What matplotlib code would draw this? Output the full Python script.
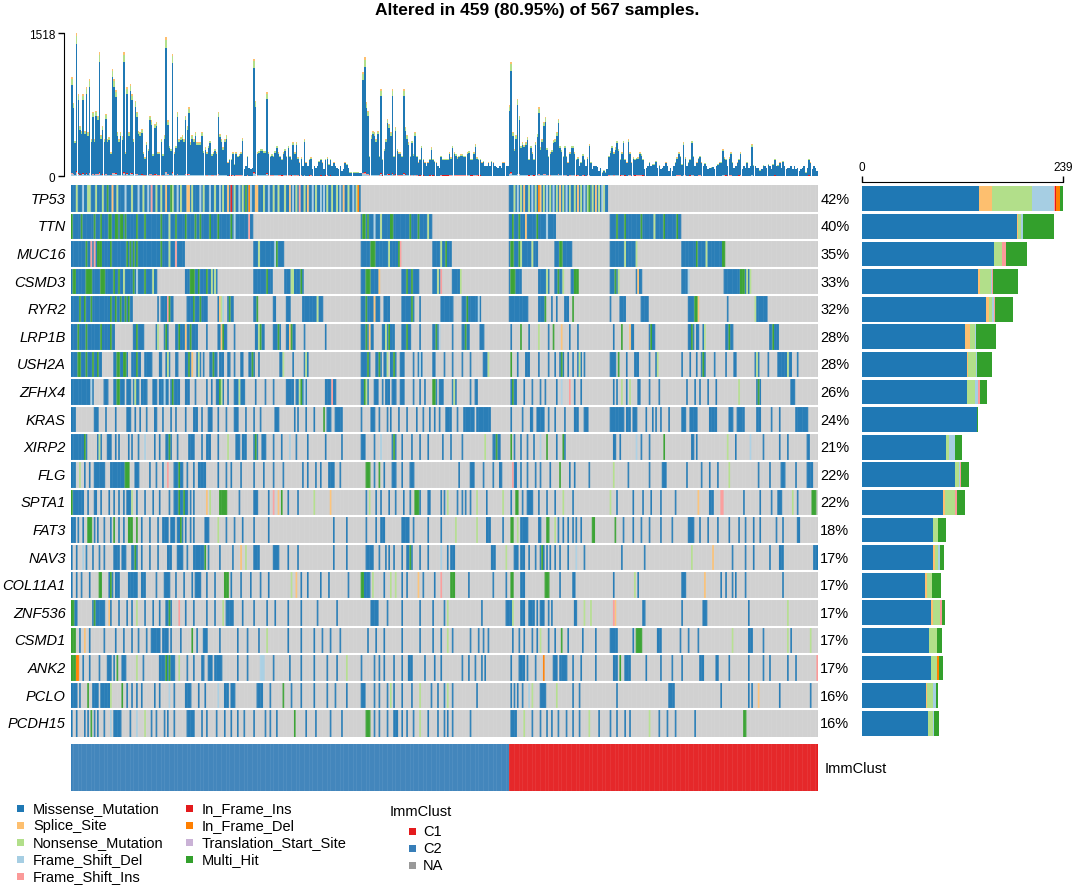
import numpy as np
import matplotlib.pyplot as plt
from matplotlib.patches import Rectangle

plt.rcParams['font.family'] = ['Liberation Sans', 'DejaVu Sans']

n_samples = 459
n_c2 = 269          # ImmClust C2 samples (left block)
n_c1 = 190          # ImmClust C1 samples (right block)

genes = ['TP53', 'TTN', 'MUC16', 'CSMD3', 'RYR2', 'LRP1B', 'USH2A', 'ZFHX4', 'KRAS', 'XIRP2',
         'FLG', 'SPTA1', 'FAT3', 'NAV3', 'COL11A1', 'ZNF536', 'CSMD1', 'ANK2', 'PCLO', 'PCDH15']
pct_labels = ['42%', '40%', '35%', '33%', '32%', '28%', '28%', '26%', '24%', '21%',
              '22%', '22%', '18%', '17%', '17%', '17%', '17%', '17%', '16%', '16%']

vc_names = ['Missense_Mutation', 'Splice_Site', 'Nonsense_Mutation', 'Frame_Shift_Del',
            'Frame_Shift_Ins', 'In_Frame_Ins', 'In_Frame_Del', 'Translation_Start_Site', 'Multi_Hit']
vc_codes = ['m', 's', 'n', 'd', 'i', 'r', 'o', 't', 'h']
vc_colors = ['#1F78B4', '#FDBF6F', '#B2DF8A', '#A6CEE3', '#FB9A99', '#E31A1C', '#FF7F00', '#CAB2D6', '#33A02C']

# mutated samples per gene: "a-b" ranges (missense by default), a trailing letter sets the type
mut_rows = [
    # TP53
    "0-177 269-329 3n 10-11n 15n 19n 28n 37n 44n 52n 55n 62n 67n 74n 81n 88n 93n 100n 105n 118n 124n "
    "127n 131n 138n 143n 150n 157n 160n 163n 170n 175n 272n 276n 281n 285n 290n 294n 298n 302n 306n "
    "309n 313n 317n 320n 324n 327n 25s 58s 71-72s 96s 113-114s 134s 145s 167s 278s 288s 300s 311s 322s "
    "7d 33d 41d 47d 65d 79d 85d 91d 103d 110d 121d 136d 148d 153d 155d 165d 173d 274d 283d 292d 296d "
    "304d 315d 326d 49i 140i 98r 109o 176o 287o 22h 61h 107h 318h",
    # TTN
    "0-111 178-221 269-297 331-374 0h 6h 14h 18h 23-24h 27-28h 30-31h 33h 40h 45h 55h 64h 70h 76h 79h "
    "85h 90h 98h 179-180h 182h 196-197h 208h 213h 271h 275h 286h 335h 340h 350h 364h 372h 60n 190n "
    "219n 358n 279s 100d 186d 292d 109i",
    # MUC16
    "0-69 112-130 178-202 222-233 269-286 297-307 331-347 375-401 9h 16-18h 24h 34h 36h 38h 40h 55h "
    "126h 184-186h 201h 230h 270-271h 275h 300-301h 384h 400-401h 12i 14i 64i 202i 60n 115n 195n 227n "
    "276n 283n 340n 347n 390n 125d",
    # CSMD3
    "0-52 70-89 112-123 131-142 178-189 203-213 222-227 234-239 269-276 287-293 297-302 307-311 331-336 "
    "347-350 375-379 401-417 1-2h 9-12h 18-20h 26h 29h 38h 45h 73-75h 78h 83h 120h 141h 181-183h 206h "
    "209h 270-272h 299h 309-311h 334h 411-413h 50n 86n 88n 135n 136n 225n 239n 292n 302n 336n 415n "
    "417n 32n 189s 348s 227i 40d 379d",
    # RYR2
    "0-37 53 55-59 61-62 71-83 90-93 96-99 112-114 124-125 132-134 142-154 178-189 192-195 203-210 214 "
    "227-234 240-251 269-280 287-291 295 298 303-305 308 331 337-340 350-354 379-385 403 420-427 5h 8h "
    "12h 24h 27h 30h 33h 35h 60h 75h 79h 97h 114h 181h 209h 243h 291h 308h 383-384h 92n 151n 420n 91s "
    "186s 385s 59i 93d 250d",
    # LRP1B
    "0-26 38-44 52-53 57-59 64-77 83 90-95 100 113-118 124-128 132-137 143 156 178-185 191-198 203-208 "
    "214 222-226 234 240-244 251-253 270 276 281 287 293 296 301 306 311 333 338 343-345 355-358 "
    "379-382 384-385 388-389 402-406 429-434 4h 9h 18h 24h 40h 58h 66h 73h 93h 116h 127h 135h 181h "
    "195h 206h 224h 242h 276h 296h 338h 356h 381h 404h 431h 70s 92s 134s 183s 301s 343s 53n 115n 193n "
    "287n 389n 226d",
    # USH2A
    "0-18 26-34 37-42 45-49 54-55 58-60 64-65 70-74 77-79 81 85-89 91-93 96-97 100 104-105 109-112 115 "
    "128-130 136 143-145 178-183 187-190 192-194 196-199 202-204 210 213-215 222-223 229 234 240 245 "
    "253-256 270 274 279-281 287 293 297 300-302 305 308 311-313 315 331-334 341 346-348 355 359-360 "
    "375 380 384 387-389 395 402 407-408 420-422 428 434-442 446 4-5h 9h 13h 16h 28-29h 32-33h 40h "
    "72h 87h 111h 182h 189h 198h 270h 301h 336h 388h 59n 78n 130n 144n 194n 256n 312n 360n 421n 440n "
    "74s 214d",
    # ZFHX4
    "0-13 20-22 26-32 34-36 38-41 43-46 50-52 54-59 61-66 70-72 76 83 86 89-93 96 100-106 113 119 124 "
    "132-136 138-144 156-162 178-182 186-188 191 193-195 197-199 202-204 210 214 217 222-224 226-228 "
    "234-236 245 248-249 270-273 278 283 288 291 298 301 306 309 313 333 335 338 341 343 348-349 355 "
    "361 378 383 386 391 396 410 421-423 442-444 28-29h 62h 91h 222-223h 422h 180h 271h 141h 140n "
    "410n 92n 181n 39n 103n 235n 338n 343n 12d 143d 57d 301d 306i 160i",
    # KRAS
    "0-2 14-16 21 27 34-36 39 42 46 51-52 56 61 64 70 75-77 80 84-86 90 95 100-102 107 112 116 125-127 "
    "137 139 144 149 155 157-159 162-166 178 184-186 189 194 196 201 206 212 216 220 223 226 230-233 "
    "237 241-247 249-257 270 277 282-283 286-290 293 297 303 309-311 315-317 331-339 341-343 345-347 "
    "353 357 359 362 367 375-377 380-384 392-396 404-406 409-413 421-423 430 435 445-452 155h",
    # XIRP2
    "0-9 16-18 22-24 27 29 35 37 41 45 51 54 58-61 65 72-75 80 83-85 90 96 101-103 105-107 112-114 "
    "117-119 124 129 134 138 145 156 166 178-180 186 190 197-199 203 209 214 219 228 233 240 254n "
    "259-263 270h 272 276 280 284 288 292h 298 302-303 333-334 337 347 350 355 364h 381-382 384 403n "
    "408 417 425 435 440 452-453 8h 60h 113h 198h 261h 302h 45d 134d 190d 288d 347d 417d 17n 96n",
    # FLG
    "0-2 5n 8 11 14-20 24-35 33-35h 39-41 48 52 56 59i 63-68 66h 71 75 78-82 90 95 98 104 112 118 124 "
    "130 142 145 150 153 158-161 165 181-183h 186 189h 192 197-199 203 208-210 238 245-247 253 259 "
    "263-264 271i 272-273 276 280 285 288 294 300h 306 309 318 333n 342 355 363-365 378 387 392 397 "
    "404n 422 429 436-438 445 452-455",
    # SPTA1
    "0-2 0h 2-7 10 14-15 18 23 26 29 32 34-36 37n 40 45 50 54 60 63-71 66h 69h 73 75 83s 85n 91-95h "
    "103 112-114 121 124i 127s 129h 133 139 149n 159s 181 183n 187 190 195 199 204 208 211-213h 214 "
    "219-220 227 229 231n 237 240 242 245 249n 255 265n 270 273-274h 277 280-283 287 292 297 302n 308 "
    "331n 335 345 351 356 362 371 385s 392-394 399-400i 413 423 430 434-436 443n 446 455-457h",
    # FAT3
    "0-2 4 7 10-12h 14 16 20 24 26h 29 32 35-37h 40h 43 48 53 56-59 61-63 65-68 67h 70 73 75 82-84 90n "
    "95 100 105 112 121 161 169 181 187 190-192 203-207 210 219 227 236n 249n 255-257 265 270-271h "
    "274n 276-280 287 288 292-293h 297n 299 302 305 308 310 313 320-321h 334h 339 345 350 355 362 369 "
    "379-382 386 391 397 404 410 414 419 423 433 437 446-447",
    # NAV3
    "0 3 7d 9 13 17 20 26-29 31-33 37-40 39h 43 48 53 59-61 65-68 71 75-82 84 91 99 104s 107n 112-115 "
    "124-127 133 139 161 169 181-185 189 193 195 198 203 206-209 214 219 227d 231 233-235 258-260 267n "
    "272-274 276-278 281 285 288-290 292 294 297 300 305 310d 315 338 352 381n 394s 406 414 419 429 "
    "435-437 456-458 82h 208h 289h",
    # COL11A1
    "0 3 6 11 17-18h 23-25 24h 27-29 35-40 43-45 52 57-60 64 69 74 76-79 83 88 94-96h 98 104 110 116 "
    "121 135n 138s 141 145 153 158 170 178-183 178-179h 185n 192 196n 199n 203 206 213s 216 223 227i "
    "233-235h 244 259 267 270-271h 276-278 291-293h 300 308-309 333 346n 348 375-377 389s 399 402 406 "
    "408 414 437",
    # ZNF536
    "0-3 0-1h 13-19 14h 20 23s 24 29 34 37 40n 45 50 54 58-61 60h 66i 70 75 83 88 93n 95-99 105 112 "
    "120 125 133 141 151 163 184-188 194 203 214 222 229 231n 252 267-270 271n 276-278 281-284 286 "
    "288-290 293 295 309-310 315n 319n 333i 334s 351-352 375 388-390 416 440n",
    # CSMD1
    "0-2h 5 8s 11 20 27 32 37 41 46 49-54 56-59 61 67 74h 77 81-83 91 102 108 115 120n 133 141 149 154 "
    "159 165 182 187 192 203 214 222 227 231n 234 245 250 253 256 271 275 278 283 286 288n 293 297 "
    "301h 305 314 322 331-334 335 345 347-350h 360-362 374 379 385 406n 416-418 425 440n 442 454n",
    # ANK2
    "0-2h 3-4o 7 11 17 22-24 26 28h 31-33 40n 44 54-63 58h 60h 66n 71 75 80-81 84-86 88-92 102 108 "
    "116-118d 124 134 141 149 157 163 169n 178 186 189 192 198 203 207-209 217 223 227 240 244 248 252 "
    "254 270 275-278 280 285 290o 296-298 300-304 308 313 322 333-335 337h 340-343 353 362 369 375 "
    "386-388 396 397 404 416 425 429 440 445 458i",
    # PCLO
    "0-3 5 10h 13 14-16 18-23 24n 31h 34 37 40 43 51 54 60d 63 70-73 78 82 90d 94-96 98-100 114-117 "
    "122 130h 135 141 149 157 162 169 178-180 186 189 194 196n 198 203 209 214n 221 225 229 231n 234 "
    "249 270 272 274 277 281d 283n 288-291 298n 308 312 335 367-370 399 416 418 422s 435 454",
    # PCDH15
    "0 3 8 10 12h 14 16 20 24d 26-30 36 40d 45n 49 52 57 59 63 71-75 80 83 89 94 98 102 106 112 119 122 "
    "126 137h 144 150 159 166 181-183h 186 189 194 198-200 203 206 210 214n 219 225 229 231 234 245 "
    "270-273 278n 283 288 292 295 299 304 308 312 318n 324 331 335 340 343 355n 361 366 371 383 "
    "413-414h",
]

# variant counts per gene for the right bar: missense, splice, nonsense, fs_del, fs_ins,
# if_ins, if_del, tss, multi_hit
gene_vc_counts = [
    [139, 16, 47, 26, 2, 1, 4, 0, 4],
    [184, 1, 4, 3, 0, 0, 0, 0, 36],
    [157, 0, 9, 1, 4, 0, 0, 0, 25],
    [138, 2, 13, 2, 1, 0, 0, 0, 30],
    [148, 3, 4, 2, 1, 0, 0, 0, 21],
    [123, 6, 5, 1, 0, 0, 0, 0, 24],
    [125, 1, 10, 1, 0, 0, 0, 0, 18],
    [125, 0, 9, 4, 2, 0, 0, 0, 9],
    [137, 0, 0, 0, 0, 0, 0, 0, 1],
    [100, 0, 4, 6, 0, 0, 0, 0, 9],
    [111, 0, 4, 2, 1, 0, 0, 0, 9],
    [96, 3, 11, 1, 2, 0, 0, 0, 10],
    [84, 0, 6, 0, 0, 0, 0, 0, 10],
    [85, 2, 3, 3, 0, 0, 0, 0, 4],
    [75, 2, 6, 0, 0, 0, 0, 0, 11],
    [82, 2, 9, 0, 2, 0, 0, 0, 4],
    [80, 0, 9, 0, 0, 0, 0, 0, 6],
    [82, 0, 7, 0, 0, 0, 2, 0, 5],
    [76, 1, 7, 4, 0, 0, 0, 0, 2],
    [79, 0, 6, 1, 0, 0, 0, 0, 5],
]

# total mutations per sample (top bar), left to right
tmb_total = [
    1050, 780, 375, 1518, 870, 535, 480, 870, 480, 940,
    465, 1030, 394, 680, 394, 695, 640, 1315, 430, 535,
    394, 660, 394, 410, 250, 1140, 1030, 910, 465, 394,
    465, 420, 1315, 250, 940, 465, 980, 870, 394, 800, 680,
    480, 465, 500, 250, 200, 360, 290, 640, 590, 235,
    555, 570, 250, 250, 395, 235, 430, 1475, 590, 320,
    290, 1300, 250, 320, 680, 394, 410, 430, 394, 640, 535,
    730, 360, 430, 394, 465, 360, 360, 360, 465, 270,
    305, 250, 320, 375, 235, 250, 290, 250, 680, 445,
    394, 305, 394, 430, 145, 180, 180, 250, 130, 250,
    215, 230, 250, 400, 75, 110, 215, 90, 75, 90, 1245,
    800, 250, 270, 290, 290, 270, 270, 890, 250, 215,
    235, 215, 270, 320, 250, 215, 180, 250, 290, 215,
    320, 215, 180, 360, 250, 360, 200, 145, 200, 110, 394,
    145, 110, 180, 200, 75, 110, 90, 110, 160, 180,
    145, 75, 180, 200, 130, 180, 110, 145, 110, 90,
    75, 110, 55, 75, 145, 130, 90, 40, 40, 40, 40, 40, 40, 30, 30,
    1100, 1260, 785, 695, 215, 430,
    480, 465, 394, 480, 215, 925, 180, 290, 394, 605,
    555, 465, 925, 215, 520, 290, 250, 250, 215, 925, 520,
    430, 360, 215, 375, 235, 465, 215, 145, 180, 320,
    180, 145, 110, 145, 180, 305, 180, 160, 145, 110, 90,
    216, 180, 180, 180, 180, 250, 200, 320, 250, 235,
    200, 215, 230, 235, 215, 216, 250, 270, 180, 180,
    250, 335, 200, 180, 180, 145, 160, 110, 110, 145,
    110, 160, 145, 110, 100, 90, 110, 90, 145, 145, 110, 110,
    750, 1210, 465, 287, 430, 820, 640, 323, 358, 330, 358, 410, 180, 323, 250, 180,
    358, 450, 730, 305, 394, 570, 625, 300, 216, 252, 280, 383, 394, 465, 605, 323, 280,
    216, 323, 216, 145, 250, 323, 323, 250, 180, 200, 110, 150, 235, 180, 110, 200,
    340, 150, 75, 110, 110, 100, 55, 90, 40, 60, 40, 75, 216, 270, 323, 250,
    305, 375, 290, 180, 250, 376, 180, 145, 394, 252, 145, 200, 180, 190,
    200, 252, 235, 180, 75, 90, 110, 150, 110, 130, 125, 160, 90, 120, 75,
    90, 110, 145, 110, 55, 90, 55, 110, 150, 200, 252, 216, 130, 358, 200,
    110, 150, 180, 376, 216, 110, 145, 190, 216, 145, 110, 140, 110, 75, 90, 95,
    100, 75, 110, 125, 145, 150, 287, 200, 180, 110, 200, 252, 150, 90, 110, 145,
    180, 252, 75, 110, 90, 150, 90, 110, 335, 120, 110, 90, 90, 60, 75, 120,
    110, 90, 125, 110, 75, 130, 180, 110, 120,
    145, 90, 160, 110, 75, 90, 90, 110, 75, 110, 75, 90,
    55, 75, 90, 110, 40, 90, 180, 145, 75, 110, 90, 55,
]
# approximate share of each class inside a sample bar (bottom to top)
tmb_classes = ['Frame_Shift_Del', 'Frame_Shift_Ins', 'In_Frame_Ins', 'Missense_Mutation',
               'Nonsense_Mutation', 'Splice_Site']
tmb_share = [0.02, 0.008, 0.004, 0.89, 0.058, 0.02]

clust_levels = ['C1', 'C2', 'NA']
clust_colors = ['#E41A1C', '#377EB8', '#999999']
imm_clust = ['C2'] * n_c2 + ['C1'] * n_c1

title = 'Altered in 459 (80.95%) of 567 samples.'


# ---- helpers ----
def parse_row(spec):
    row = np.zeros(n_samples, dtype=int)
    for tok in spec.split():
        code = 'm'
        if tok[-1].isalpha():
            code, tok = tok[-1], tok[:-1]
        a, _, b = tok.partition('-')
        a = int(a)
        b = int(b) if b else a
        row[a:b + 1] = vc_codes.index(code) + 1
    return row


def runs_of(idx):
    # contiguous runs of sample indices -> (start, width) pairs for broken_barh
    if len(idx) == 0:
        return []
    cuts = np.flatnonzero(np.diff(idx) != 1) + 1
    return [(int(g[0]), int(g[-1] - g[0] + 1)) for g in np.split(idx, cuts)]


W, H = 1074, 887


def px_box(x0, y0, x1, y1):
    # pixel box from top-left -> figure fraction rect
    return [x0 / W, 1 - y1 / H, (x1 - x0) / W, (y1 - y0) / H]


mat = np.array([parse_row(s) for s in mut_rows])
tmb_arr = np.array(tmb_total, dtype=float)
if len(tmb_arr) != n_samples:
    raise ValueError('tmb length %d' % len(tmb_arr))

fig = plt.figure(figsize=(W / 100, H / 100), dpi=100)
fig.patch.set_facecolor('white')

ax_tmb = fig.add_axes(px_box(71, 34, 818, 177))
ax_mat = fig.add_axes(px_box(71, 186, 818, 738))
ax_bar = fig.add_axes(px_box(862, 186, 1063, 738))
ax_ann = fig.add_axes(px_box(71, 745, 818, 792))

# top: mutations per sample
x = np.arange(n_samples) + 0.5
bottom = np.zeros(n_samples)
for name, share in zip(tmb_classes, tmb_share):
    seg = tmb_arr * share
    ax_tmb.bar(x, seg, bottom=bottom, width=0.92, color=vc_colors[vc_names.index(name)], linewidth=0)
    bottom += seg
ax_tmb.set_xlim(0, n_samples)
ax_tmb.set_ylim(0, 1518)
for s in ['top', 'right', 'bottom']:
    ax_tmb.spines[s].set_visible(False)
ax_tmb.spines['left'].set_position(('outward', 5))
ax_tmb.spines['left'].set_bounds(0, 1518)
ax_tmb.set_xticks([])
ax_tmb.set_yticks([0, 1518])
ax_tmb.tick_params(axis='y', length=4.5, width=1, labelsize=8.5, pad=2)

# oncoplot matrix: gray background row, coloured runs per variant class
for r, row in enumerate(mat):
    ax_mat.broken_barh([(0, n_samples)], (r, 1), facecolors='#CFCFCF', linewidth=0)
    for k, col in enumerate(vc_colors):
        spans = runs_of(np.flatnonzero(row == k + 1))
        if spans:
            ax_mat.broken_barh(spans, (r, 1), facecolors=col, linewidth=0, snap=False)
ax_mat.vlines(np.arange(1, n_samples), 0, len(genes), colors='white', lw=0.3, alpha=0.25)
for r in range(1, len(genes)):
    ax_mat.axhline(r, color='white', lw=1.5)
ax_mat.set_xlim(0, n_samples)
ax_mat.set_ylim(len(genes), 0)
ax_mat.axis('off')
ytr = ax_mat.get_yaxis_transform()
for r, (g, p) in enumerate(zip(genes, pct_labels)):
    ax_mat.text(-0.007, r + 0.5, g, transform=ytr, ha='right', va='center',
                style='italic', fontsize=10.5)
    ax_mat.text(1.003, r + 0.5, p, transform=ytr, ha='left', va='center', fontsize=10.5)

# right: variant counts per gene
yb = np.arange(len(genes)) + 0.5
left = np.zeros(len(genes))
for k, col in enumerate(vc_colors):
    vals = np.array([row[k] for row in gene_vc_counts], dtype=float)
    ax_bar.barh(yb, vals, left=left, height=0.9, color=col, linewidth=0)
    left += vals
ax_bar.set_xlim(0, 239)
ax_bar.set_ylim(len(genes), 0)
for s in ['bottom', 'left', 'right']:
    ax_bar.spines[s].set_visible(False)
ax_bar.spines['top'].set_position(('outward', 2))
ax_bar.spines['top'].set_bounds(0, 239)
ax_bar.xaxis.tick_top()
ax_bar.set_xticks([0, 239])
ax_bar.set_yticks([])
ax_bar.tick_params(axis='x', length=4.5, width=1, labelsize=8.5, pad=2)

# ImmClust annotation
ann = np.array([clust_levels.index(c) for c in imm_clust])
for k, col in enumerate(clust_colors):
    spans = runs_of(np.flatnonzero(ann == k))
    if spans:
        ax_ann.broken_barh(spans, (0, 1), facecolors=col, linewidth=0)
ax_ann.vlines(np.arange(1, n_samples), 0, 1, colors='white', lw=0.3, alpha=0.3)
ax_ann.set_xlim(0, n_samples)
ax_ann.set_ylim(1, 0)
ax_ann.axis('off')
fig.text(825 / W, 1 - 769 / H, 'ImmClust', ha='left', va='center', fontsize=10.5)

fig.text(0.5, 1 - 10 / H, title, ha='center', va='center', fontsize=12.5, fontweight='bold')


# legends
def legend_item(x_sq, x_txt, y, color, label):
    fig.patches.append(Rectangle((x_sq / W, 1 - (y + 3.5) / H), 7 / W, 7 / H,
                                 transform=fig.transFigure, color=color, linewidth=0))
    fig.text(x_txt / W, 1 - y / H, label, ha='left', va='center', fontsize=10.5)


leg_rows = [809, 826, 843, 860, 877]
for k, (name, col) in enumerate(zip(vc_names, vc_colors)):
    if k < 5:
        legend_item(17, 33, leg_rows[k], col, name)
    else:
        legend_item(186, 202, leg_rows[k - 5], col, name)

fig.text(390 / W, 1 - 812 / H, 'ImmClust', ha='left', va='center', fontsize=10.5)
for k, (lv, col) in enumerate(zip(clust_levels, clust_colors)):
    legend_item(409, 423, 832 + 17 * k, col, lv)

fig.savefig('out.png', dpi=100)
